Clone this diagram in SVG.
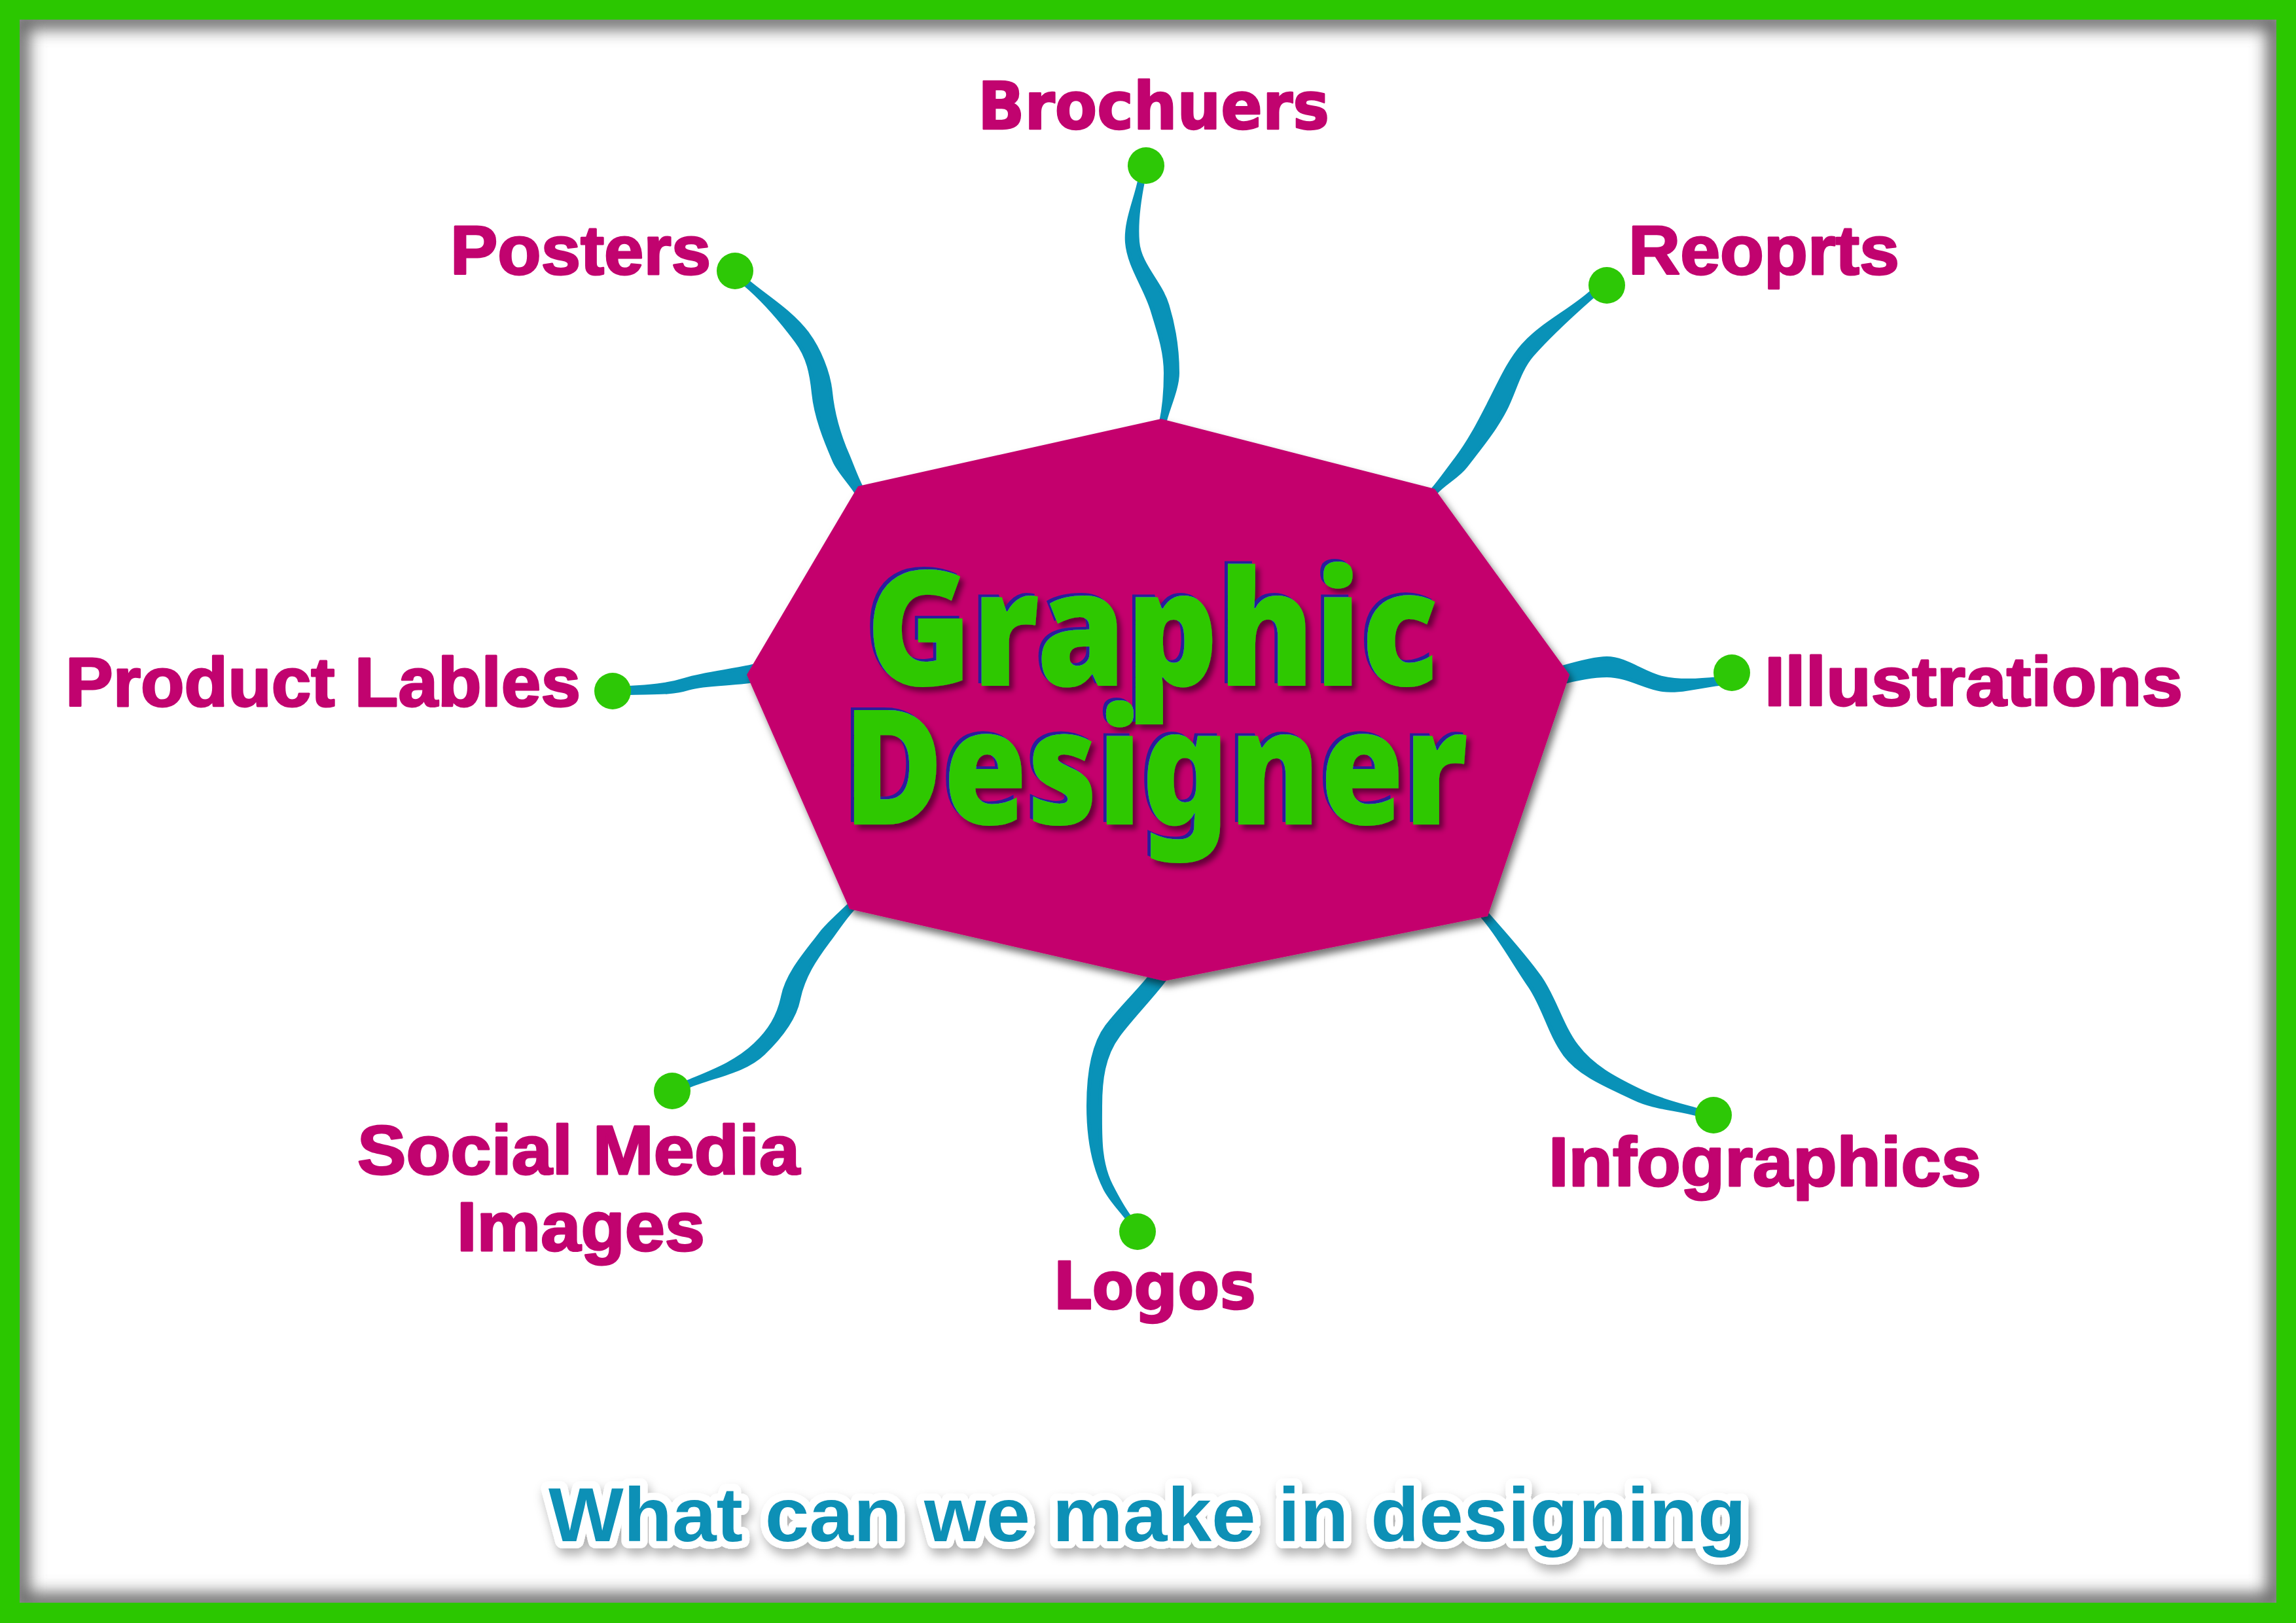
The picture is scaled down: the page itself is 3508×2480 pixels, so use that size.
<svg xmlns="http://www.w3.org/2000/svg" width="3508" height="2480" viewBox="0 0 3508 2480">
<defs>
<style>
.lbl{font-family:'Liberation Sans',Arial,sans-serif;font-weight:bold;font-size:106px;fill:#C1036F;stroke:#C1036F;stroke-width:3;stroke-linejoin:round}
.wide{font-family:'DejaVu Sans',Verdana,sans-serif;font-weight:bold;font-size:100px;fill:#C1036F;stroke:#C1036F;stroke-width:2.5;stroke-linejoin:round}
.dot{fill:#2DC806}
.conn{fill:#0992B8;stroke:#0992B8;stroke-width:6;stroke-linejoin:round}
.title{font-family:'Noto Sans','Open Sans',sans-serif;font-weight:900;font-size:244px;fill:#2DC806}
</style>
<clipPath id="inner"><rect x="30" y="30" width="3448" height="2419"/></clipPath>
<filter id="blur" x="-5%" y="-5%" width="110%" height="110%"><feGaussianBlur stdDeviation="12"/></filter>
<filter id="oshadow" x="-10%" y="-10%" width="120%" height="120%"><feDropShadow dx="5" dy="8" stdDeviation="6" flood-color="#000" flood-opacity="0.55"/></filter>
<filter id="titlefx" x="-10%" y="-20%" width="120%" height="150%">
<feOffset in="SourceAlpha" dx="6" dy="7" result="o1"/>
<feGaussianBlur in="o1" stdDeviation="4" result="b1"/>
<feFlood flood-color="#000" flood-opacity="0.5"/>
<feComposite in2="b1" operator="in" result="shadow"/>
<feOffset in="SourceAlpha" dx="-5" dy="-4" result="o2"/>
<feFlood flood-color="#2A1E9C"/>
<feComposite in2="o2" operator="in" result="navy"/>
<feMerge><feMergeNode in="shadow"/><feMergeNode in="navy"/><feMergeNode in="SourceGraphic"/></feMerge>
</filter>
<filter id="cshadow" x="-5%" y="-40%" width="110%" height="180%"><feDropShadow dx="4" dy="10" stdDeviation="8" flood-color="#000" flood-opacity="0.3"/></filter>
</defs>

<rect width="3508" height="2480" fill="#2BC700"/>
<rect x="30" y="30" width="3448" height="2419" fill="#ffffff"/>
<g clip-path="url(#inner)"><rect x="30" y="30" width="3448" height="2419" fill="none" stroke="#6a6a6a" stroke-width="30" filter="url(#blur)"/></g>

<g id="connectors">
<path class="conn" d="M1741.5,274.5 C1735.2,305.9 1719.4,338.7 1722,370.6 C1724.9,406.5 1750.1,438.9 1760.5,473.5 C1770.4,506.1 1781,536 1781,570 C1781,594 1778.6,624.3 1773.6,647.3 L1778.4,648.7 C1783.4,625.7 1799,594 1799,570 C1799,536 1793.4,499.1 1783.5,466.5 C1773.1,431.9 1740.9,405.3 1738,369.4 C1735.4,337.5 1740.1,306.9 1746.5,275.5 Z"/>
<path class="conn" d="M1138.1,434.3 C1169.1,460.3 1193.1,489.1 1217.1,521.1 C1235.1,545.1 1240.1,571.3 1243.1,601.3 C1246.6,636.3 1260.9,672.3 1274.9,704.3 C1281.5,719.9 1301.1,739.7 1309.6,754.5 L1318.4,749.5 C1309.9,734.7 1301.7,711.3 1295.1,695.7 C1281.1,663.7 1272.4,633.7 1268.9,598.7 C1265.9,568.7 1250.9,532.9 1232.9,508.9 C1208.9,476.9 1172.9,455.7 1141.9,429.7 Z"/>
<path class="conn" d="M2430,447.7 C2397.7,476.1 2354.9,496.1 2326.5,528.4 C2305.4,552.4 2291.1,585.5 2276.4,614 C2260.8,644.3 2245.6,674.6 2224.9,701.5 C2212.1,718.1 2201.4,734 2187.7,750 L2192.3,754 C2206,738 2226.3,729.1 2239.1,712.5 C2259.8,685.6 2284,656.3 2299.6,626 C2314.3,597.5 2320.4,565.6 2341.5,541.6 C2369.9,509.3 2401.7,480.7 2434,452.3 Z"/>
<path class="conn" d="M960.2,1059 C990.2,1057.5 1023.6,1060.7 1052.1,1051.7 C1080.6,1042.7 1128.7,1046.2 1157.8,1038.7 L1152.2,1017.3 C1123.1,1024.8 1076.4,1029.3 1047.9,1038.3 C1019.4,1047.3 989.8,1049.5 959.8,1051 Z"/>
<path class="conn" d="M2625.6,1037 C2596.7,1039.9 2565.3,1042.3 2537.2,1035.3 C2510,1028.6 2483,1006 2455,1006 C2435,1006 2401.1,1015.8 2381.9,1021.4 L2388.1,1042.6 C2407.3,1037 2435,1032 2455,1032 C2483,1032 2505.6,1046 2532.8,1052.7 C2560.9,1059.7 2597.5,1047.9 2626.4,1045 Z"/>
<path class="conn" d="M2265,1400.6 C2290.7,1429.9 2314.6,1473.7 2336.8,1505.7 C2359,1537.7 2367.8,1580.4 2391.2,1611.6 C2415.2,1643.6 2460.9,1660.7 2496.9,1678.3 C2526.6,1692.8 2562.5,1693.7 2594.2,1702.9 L2595.8,1697.1 C2564.1,1687.9 2532.8,1680.2 2503.1,1665.7 C2467.1,1648.1 2432.8,1630.4 2408.8,1598.4 C2385.4,1567.2 2375.4,1526.3 2353.2,1494.3 C2331,1462.3 2296.7,1424.7 2271,1395.4 Z"/>
<path class="conn" d="M1764,1484 C1743,1512 1712.2,1540.4 1691.2,1568.4 C1667.8,1599.6 1663,1651 1663,1690 C1663,1732 1669.6,1778.9 1688.5,1816.3 C1697.1,1833.2 1712,1848 1723.4,1863.2 L1726.6,1860.8 C1715.2,1845.6 1706.1,1828.6 1697.5,1811.7 C1678.6,1774.3 1681,1732 1681,1690 C1681,1651 1685.4,1612.8 1708.8,1581.6 C1729.8,1553.6 1759,1524 1780,1496 Z"/>
<path class="conn" d="M1051.2,1659.8 C1088.9,1643.8 1136.7,1637.8 1166.2,1609.5 C1188.5,1588.1 1213.6,1557.8 1219.8,1527.4 C1227,1492.1 1244.8,1465.6 1266.4,1436.8 C1277.8,1421.6 1291.5,1400.3 1304.8,1386.8 L1299.2,1381.2 C1285.9,1394.7 1265,1412 1253.6,1427.2 C1232,1456 1203.4,1487.3 1196.2,1522.6 C1190,1553 1176.1,1575.1 1153.8,1596.5 C1124.3,1624.8 1086.5,1638.2 1048.8,1654.2 Z"/>
</g>

<g id="center">
<polygon points="1774,640 2192,747 2398,1031 2273,1400 1779,1499 1298,1389 1141,1031 1311,743" fill="#C4036D" filter="url(#oshadow)"/>
<g filter="url(#titlefx)">
<text class="title"><tspan x="1323" y="1048" textLength="875" lengthAdjust="spacingAndGlyphs">Graphic</tspan><tspan x="1289" y="1260" textLength="954" lengthAdjust="spacingAndGlyphs">Designer</tspan></text>
</g>
</g>

<g id="node-brochuers"><circle class="dot" cx="1751" cy="253" r="28"/><text class="wide" x="1494" y="197" textLength="537" lengthAdjust="spacingAndGlyphs">Brochuers</text></g>
<g id="node-posters"><circle class="dot" cx="1123" cy="414" r="28"/><text class="lbl" x="688" y="419" textLength="398" lengthAdjust="spacingAndGlyphs">Posters</text></g>
<g id="node-reoprts"><circle class="dot" cx="2455" cy="436" r="28"/><text class="lbl" x="2488" y="419" textLength="414" lengthAdjust="spacingAndGlyphs">Reoprts</text></g>
<g id="node-product"><circle class="dot" cx="936" cy="1056" r="28"/><text class="lbl" x="100" y="1079" textLength="787" lengthAdjust="spacingAndGlyphs">Product Lables</text></g>
<g id="node-illustrations"><circle class="dot" cx="2646" cy="1028" r="28"/><text class="lbl" x="2696" y="1078" textLength="639" lengthAdjust="spacingAndGlyphs">Illustrations</text></g>
<g id="node-infographics"><circle class="dot" cx="2618" cy="1704" r="28"/><text class="lbl" x="2366" y="1812" textLength="661" lengthAdjust="spacingAndGlyphs">Infographics</text></g>
<g id="node-logos"><circle class="dot" cx="1738" cy="1882" r="28"/><text class="wide" x="1609" y="2000" textLength="310" lengthAdjust="spacingAndGlyphs">Logos</text></g>
<g id="node-social"><circle class="dot" cx="1027" cy="1667" r="28"/><text class="lbl" x="546" y="1794" textLength="676" lengthAdjust="spacingAndGlyphs">Social Media</text><text class="lbl" x="698" y="1911" textLength="379" lengthAdjust="spacingAndGlyphs">Images</text></g>

<g id="caption" filter="url(#cshadow)">
<text x="838" y="2355" textLength="1830" lengthAdjust="spacingAndGlyphs" font-family="'Liberation Sans',Arial,sans-serif" font-weight="bold" font-size="116" fill="#0A90B6" stroke="#ffffff" stroke-width="22" stroke-linejoin="round" paint-order="stroke">What can we make in designing</text>
</g>
</svg>
